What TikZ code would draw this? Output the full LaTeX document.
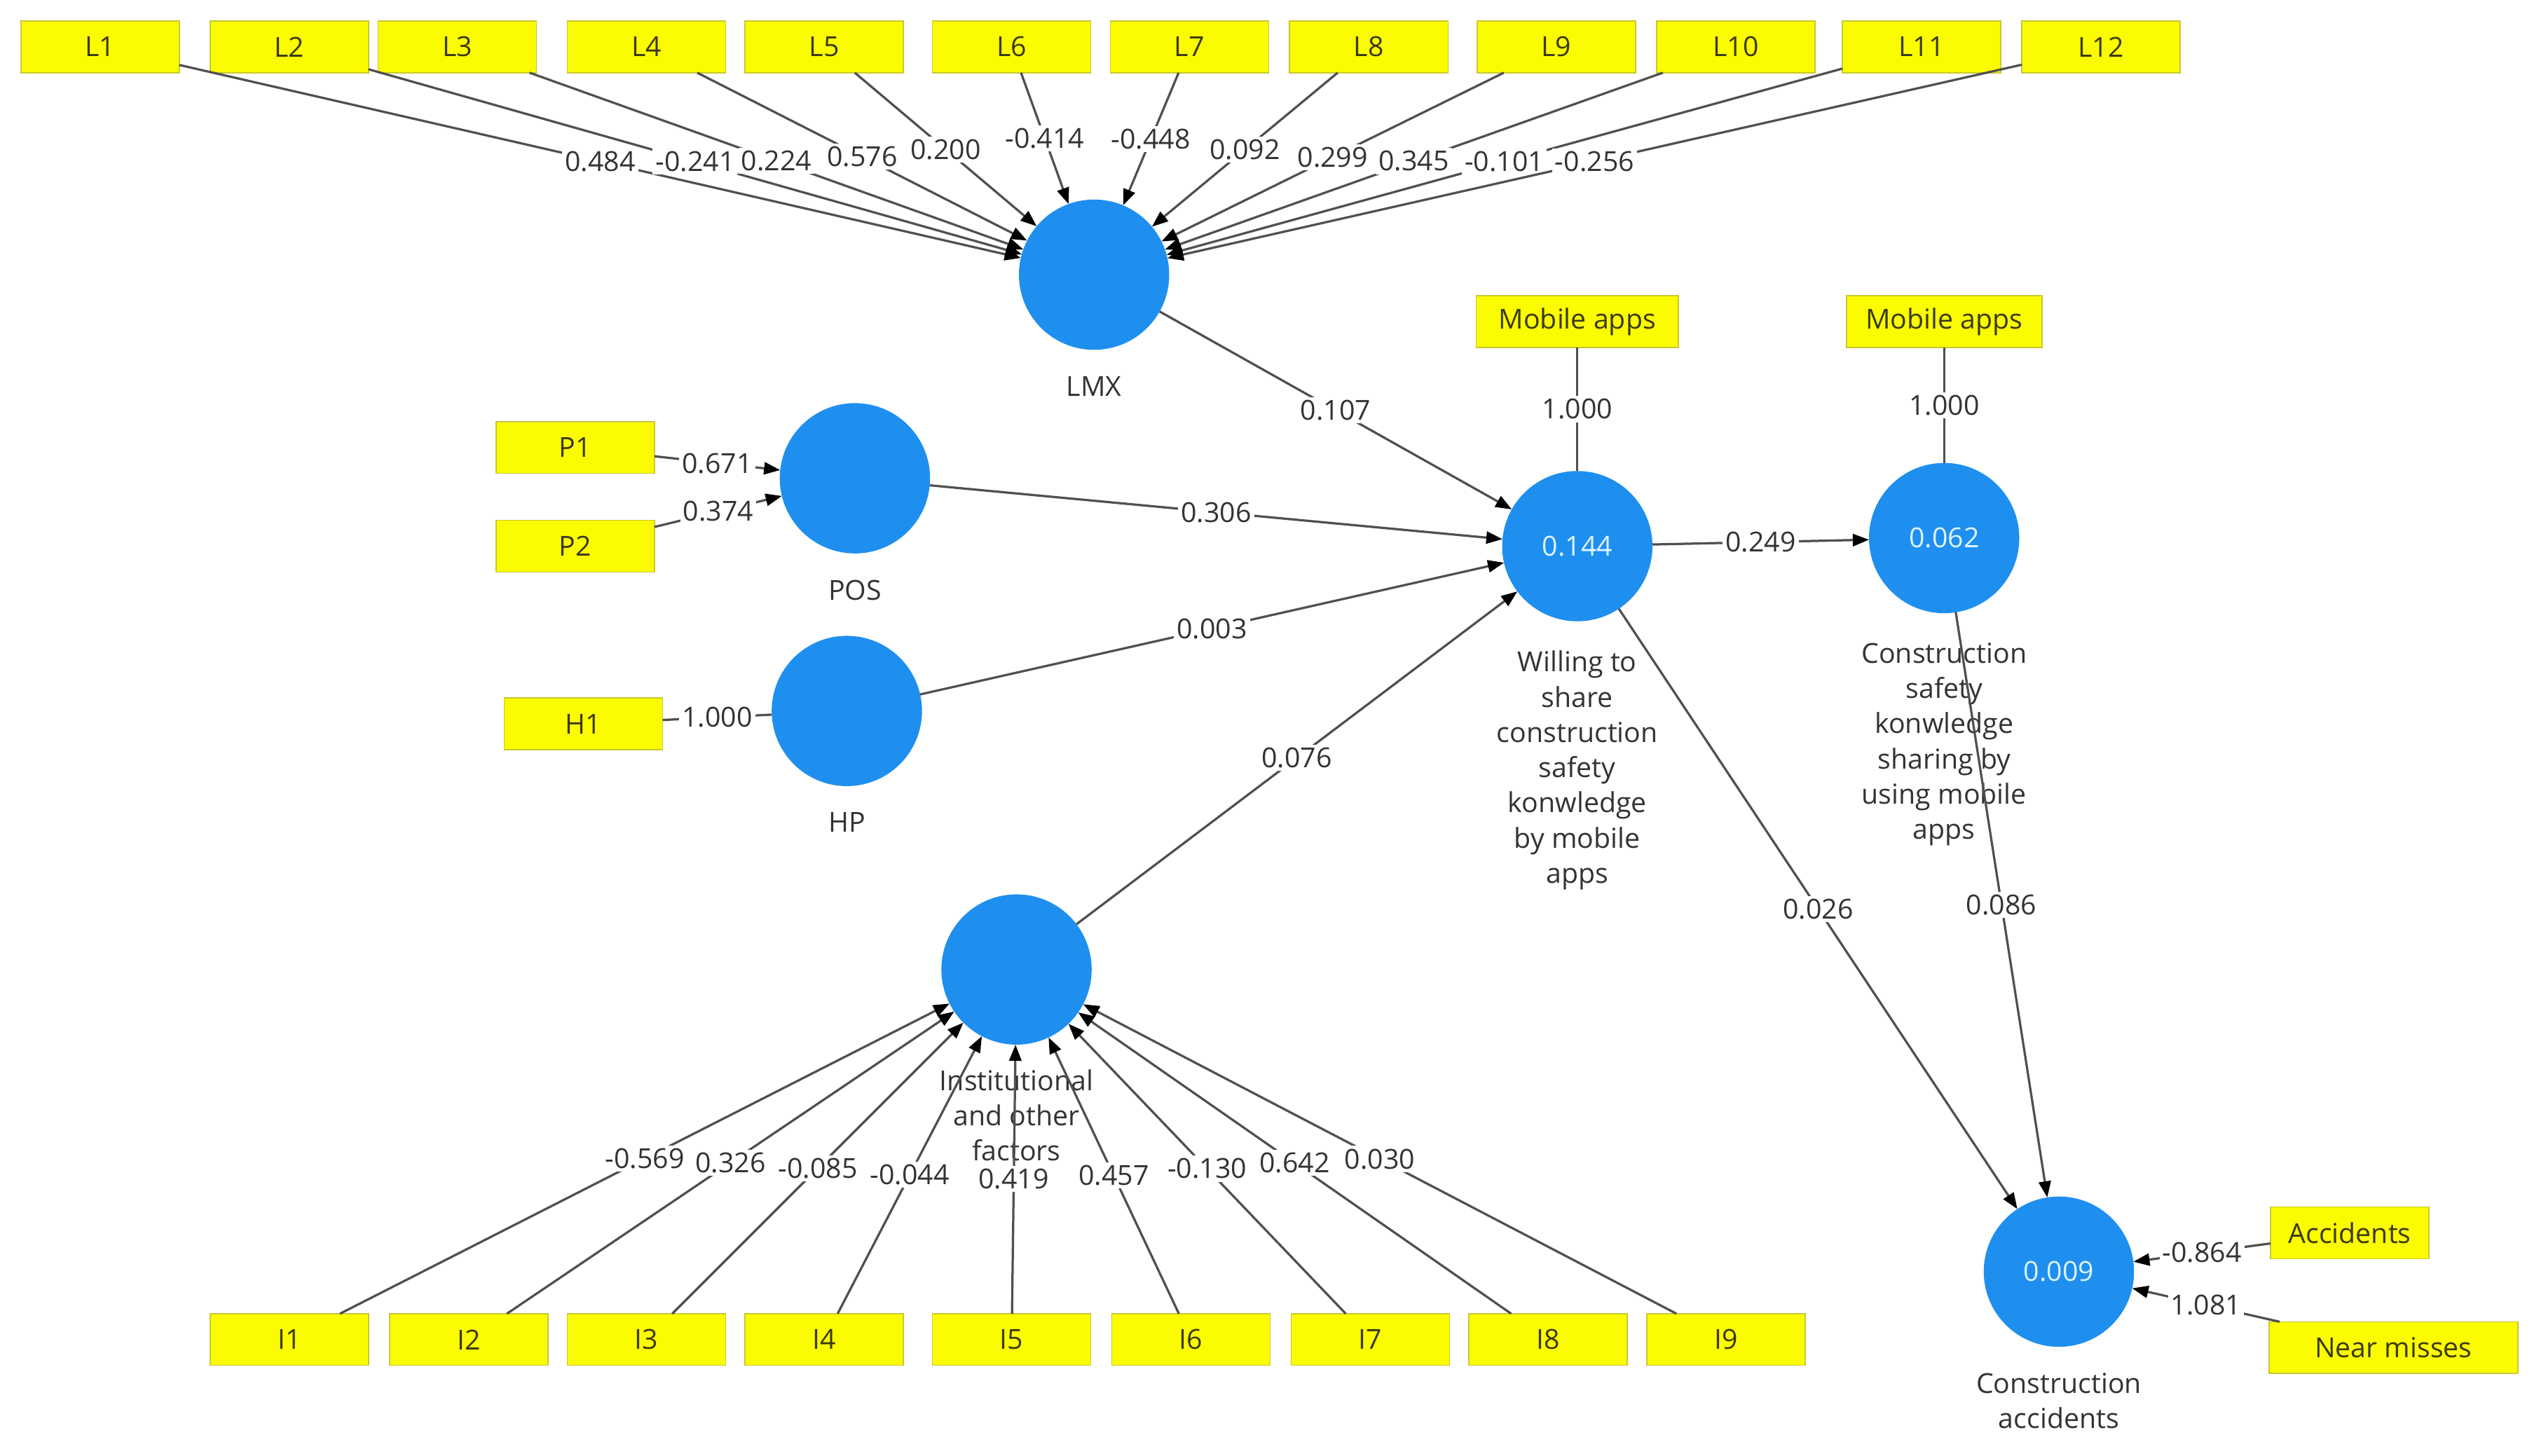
\documentclass[tikz,border=0pt]{standalone}
\usepackage{fontspec}
\setmainfont{Open Sans}
\usetikzlibrary{positioning}
\usetikzlibrary{arrows.meta}

\definecolor{indfill}{HTML}{FCFC00}
\definecolor{indline}{HTML}{C8C832}
\definecolor{indtext}{HTML}{3A3A14}
\definecolor{lvfill}{HTML}{1E8FEF}
\definecolor{lvtext}{HTML}{DDF3FF}
\definecolor{linegray}{HTML}{505050}
\definecolor{txtgray}{HTML}{333333}

\tikzset{
  every node/.style={font=\fontsize{9.7}{12.4}\selectfont},
  ind/.style={draw=indline, fill=indfill, text=indtext, minimum width=1.96cm, minimum height=0.64cm, inner sep=0pt, outer sep=0pt},
  lv/.style={circle, fill=lvfill, text=lvtext, minimum size=1.86cm, inner sep=0pt, outer sep=0pt},
  lvname/.style={align=center, text=txtgray, inner sep=0pt},
  wt/.style={fill=white, text=txtgray, inner sep=1pt},
  arr/.style={draw=linegray, line width=0.8pt, -{Triangle[length=0.2cm,width=0.15cm,color=black]}},
  lin/.style={draw=linegray, line width=0.8pt},
}

\begin{document}
\begin{tikzpicture}[x=0.2mm, y=-0.2mm]
\fill[white] (0,0) rectangle (1568,901);

% latent variables
\node[lv](LMX) at (677,170){};
\node[lv](POS) at (529,296){};
\node[lv](HP) at (524,440){};
\node[lv](INS) at (629,600){};
\node[lv](WTS) at (976,338){0.144};
\node[lv](CSK) at (1203,333){0.062};
\node[lv](CA) at (1274,787){0.009};

\node[lvname, below=0.32cm of LMX](LMXn){LMX};
\node[lvname, below=0.32cm of POS](POSn){POS};
\node[lvname, below=0.32cm of HP](HPn){HP};
\node[lvname, below=0.3cm of INS](INSn){Institutional\\and other\\factors};
\node[lvname, below=0.36cm of WTS](WTSn){Willing to\\share\\construction\\safety\\konwledge\\by mobile\\apps};
\node[lvname, below=0.36cm of CSK](CSKn){Construction\\safety\\konwledge\\sharing by\\using mobile\\apps};
\node[lvname, below=0.32cm of CA](CAn){Construction\\accidents};

% indicators
\node[ind](L1) at (62,29){L1};
\node[ind](L2) at (179,29){L2};
\node[ind](L3) at (283,29){L3};
\node[ind](L4) at (400,29){L4};
\node[ind](L5) at (510,29){L5};
\node[ind](L6) at (626,29){L6};
\node[ind](L7) at (736,29){L7};
\node[ind](L8) at (847,29){L8};
\node[ind](L9) at (963,29){L9};
\node[ind](L10) at (1074,29){L10};
\node[ind](L11) at (1189,29){L11};
\node[ind](L12) at (1300,29){L12};

\node[ind](P1) at (356,277){P1};
\node[ind](P2) at (356,338){P2};
\node[ind](H1) at (361,448){H1};

\node[ind, minimum width=2.5cm](MA1) at (976,199){Mobile apps};
\node[ind, minimum width=2.42cm](MA2) at (1203,199){Mobile apps};

\node[ind](I1) at (179,829){I1};
\node[ind](I2) at (290,829){I2};
\node[ind](I3) at (400,829){I3};
\node[ind](I4) at (510,829){I4};
\node[ind](I5) at (626,829){I5};
\node[ind](I6) at (737,829){I6};
\node[ind](I7) at (848,829){I7};
\node[ind](I8) at (958,829){I8};
\node[ind](I9) at (1068,829){I9};

\node[ind](ACC) at (1454,763){Accidents};
\node[ind, minimum width=3.08cm](NM) at (1481,834){Near misses};

% outer weights
\path (L1) edge[arr] node[wt]{0.484} (LMX);
\path (L2) edge[arr] node[wt]{-0.241} (LMX);
\path (L3) edge[arr] node[wt]{0.224} (LMX);
\path (L4) edge[arr] node[wt]{0.576} (LMX);
\path (L5) edge[arr] node[wt]{0.200} (LMX);
\path (L6) edge[arr] node[wt]{-0.414} (LMX);
\path (L7) edge[arr] node[wt]{-0.448} (LMX);
\path (L8) edge[arr] node[wt]{0.092} (LMX);
\path (L9) edge[arr] node[wt]{0.299} (LMX);
\path (L10) edge[arr] node[wt]{0.345} (LMX);
\path (L11) edge[arr] node[wt]{-0.101} (LMX);
\path (L12) edge[arr] node[wt]{-0.256} (LMX);

\path (P1) edge[arr] node[wt]{0.671} (POS);
\path (P2) edge[arr] node[wt]{0.374} (POS);
\path (H1) edge[lin] node[wt]{1.000} (HP);
\path (MA1) edge[lin] node[wt]{1.000} (WTS);
\path (MA2) edge[lin] node[wt]{1.000} (CSK);

\path (I1) edge[arr] node[wt]{-0.569} (INS);
\path (I2) edge[arr] node[wt]{0.326} (INS);
\path (I3) edge[arr] node[wt]{-0.085} (INS);
\path (I4) edge[arr] node[wt]{-0.044} (INS);
\path (I5) edge[arr] node[wt]{0.419} (INS);
\path (I6) edge[arr] node[wt]{0.457} (INS);
\path (I7) edge[arr] node[wt]{-0.130} (INS);
\path (I8) edge[arr] node[wt]{0.642} (INS);
\path (I9) edge[arr] node[wt]{0.030} (INS);

\path (ACC) edge[arr] node[wt]{-0.864} (CA);
\path (NM) edge[arr] node[wt]{1.081} (CA);

% inner model
\path (LMX) edge[arr] node[wt]{0.107} (WTS);
\path (POS) edge[arr] node[wt]{0.306} (WTS);
\path (HP) edge[arr] node[wt]{0.003} (WTS);
\path (INS) edge[arr] node[wt]{0.076} (WTS);
\path (WTS) edge[arr] node[wt]{0.249} (CSK);
\path (WTS) edge[arr] node[wt]{0.026} (CA);
\path (CSK) edge[arr] node[wt]{0.086} (CA);
\end{tikzpicture}
\end{document}
